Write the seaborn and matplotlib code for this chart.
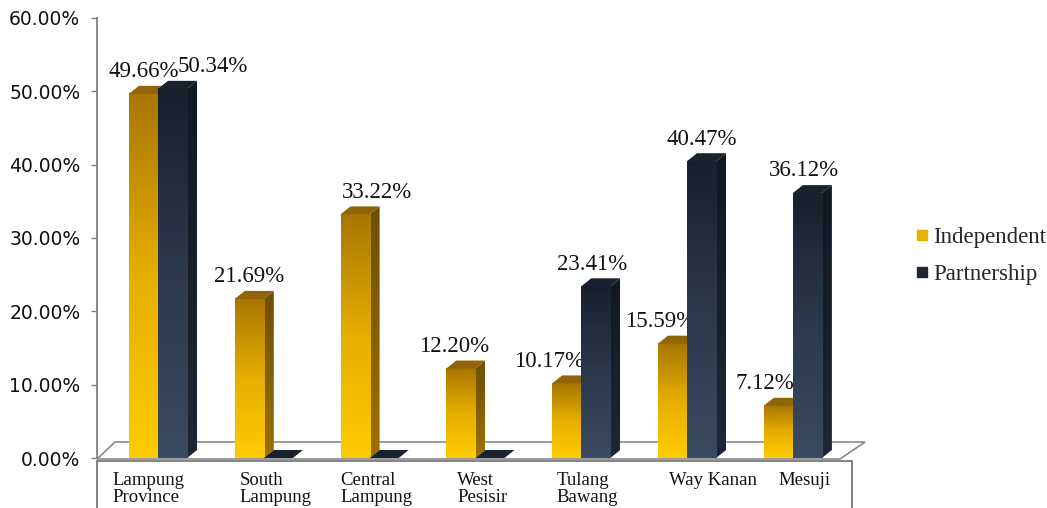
import numpy as np
import pandas as pd
import matplotlib
matplotlib.use("Agg")
import matplotlib.pyplot as plt
import seaborn as sns
from matplotlib.colors import LinearSegmentedColormap, to_rgb
from matplotlib.patches import Polygon
from matplotlib.lines import Line2D
from matplotlib.transforms import ScaledTranslation

# ---------------- data ----------------
regions = ["Lampung\nProvince", "South\nLampung", "Central\nLampung", "West\nPesisir",
           "Tulang\nBawang", "Way Kanan", "Mesuji"]
series = ["Independent", "Partnership"]
independent = [49.66, 21.69, 33.22, 12.20, 10.17, 15.59, 7.12]
partnership = [50.34, 0.00, 0.00, 0.00, 23.41, 40.47, 36.12]
yticks = [0, 10, 20, 30, 40, 50, 60]

# ---------------- layout / style ----------------
W, H = 1047, 508
AX_L, AX_R, AX_T, AX_B = 97, 860, 18, 458
CAT0_PX, CAT_STEP_PX = 158, 105.8
DEPTH_X_PX, DEPTH_Y_PX = 10, 8
# value label horizontal nudges (px), per series then per region
label_dx_px = {
    "Independent": [0, 0, 22, -7, -18, -12, -13],
    "Partnership": [40, 0, 0, 0, -4, 0, -3],
}
xlabel_dx_px = [-10, 12, 7, 7, 6, 26, 12]

base_colors = {"Independent": "#E0A800", "Partnership": "#2B3648"}
front_cmaps = {
    "Independent": LinearSegmentedColormap.from_list("if", ["#FFCC00", "#E6AE00", "#A87600"]),
    "Partnership": LinearSegmentedColormap.from_list("pf", ["#3A4A60", "#2C394C", "#19202D"]),
}
side_cmaps = {
    "Independent": LinearSegmentedColormap.from_list("is", ["#9E7000", "#6E4E00"]),
    "Partnership": LinearSegmentedColormap.from_list("ps", ["#1F2736", "#121722"]),
}
top_colors = {"Independent": "#8F6508", "Partnership": "#1A2230"}
legend_colors = {"Independent": "#E8B000", "Partnership": "#1E2535"}
zbase = {"Independent": 2, "Partnership": 5}

serif = "Liberation Serif"

sns.set_theme(style="white")
plt.rcParams["font.family"] = ["DejaVu Sans"]

fig = plt.figure(figsize=(W / 100, H / 100), dpi=100)
ax = fig.add_axes([AX_L / W, 1 - AX_B / H, (AX_R - AX_L) / W, (AX_B - AX_T) / H])

df = pd.DataFrame({
    "Region": regions * 2,
    "Type": [series[0]] * len(regions) + [series[1]] * len(regions),
    "Value": independent + partnership,
})

sns.barplot(data=df, x="Region", y="Value", hue="Type", order=regions, hue_order=series,
            palette=base_colors, width=0.55, saturation=1, errorbar=None, legend=False, ax=ax)

xlim = (-(CAT0_PX - AX_L) / CAT_STEP_PX, (AX_R - CAT0_PX) / CAT_STEP_PX)
ylim = (yticks[0], yticks[-1])
pyu = (AX_B - AX_T) / (ylim[1] - ylim[0])
dx3 = DEPTH_X_PX / CAT_STEP_PX
dy3 = DEPTH_Y_PX / pyu

grad = np.linspace(0, 1, 256).reshape(-1, 1)

bars = [p for p in ax.patches if hasattr(p, "get_height")]
for p in bars:
    fc = to_rgb(p.get_facecolor()[:3])
    s = min(series, key=lambda k: np.sum((np.array(fc) - np.array(to_rgb(base_colors[k]))) ** 2))
    x0, w, h = p.get_x(), p.get_width(), p.get_height()
    x1 = x0 + w
    z = zbase[s]
    p.set_zorder(z)
    p.set_edgecolor("none")
    # side face
    side = Polygon([(x1, 0), (x1 + dx3, dy3), (x1 + dx3, h + dy3), (x1, h)],
                   closed=True, transform=ax.transData, facecolor="none", edgecolor="none")
    im = ax.imshow(grad, extent=[x1, x1 + dx3, 0, h + dy3], origin="lower", aspect="auto",
                   cmap=side_cmaps[s], zorder=z, interpolation="bilinear")
    im.set_clip_path(side)
    # front face
    if h > 0:
        ax.imshow(grad, extent=[x0, x1, 0, h], origin="lower", aspect="auto",
                  cmap=front_cmaps[s], zorder=z + 0.5, interpolation="bilinear")
    # top face
    ax.add_patch(Polygon([(x0, h), (x1, h), (x1 + dx3, h + dy3), (x0 + dx3, h + dy3)],
                         closed=True, facecolor=top_colors[s], edgecolor="none", zorder=z + 0.6))
    # value label
    idx = int(round((x0 + x1) / 2 - (-0.1375 if s == "Independent" else 0.1375)))
    if h > 0:
        ax.annotate(f"{h:.2f}%", xy=((x0 + x1) / 2, h),
                    xytext=(label_dx_px[s][idx] * 0.72, 12), textcoords="offset points",
                    ha="center", va="baseline", fontsize=16.5, family=serif, color="#111111",
                    zorder=4.5)

# floor
fy_front = (AX_B - 459) / pyu
fy_back = (AX_B - 442) / pyu
px2x = lambda px: (px - CAT0_PX) / CAT_STEP_PX
floor = Polygon([(px2x(AX_L), fy_front), (px2x(AX_L + 18), fy_back), (px2x(865), fy_back),
                 (px2x(840), fy_front)], closed=True, facecolor="white", edgecolor="#8a8a8a",
                lw=1.2, zorder=1, clip_on=False)
ax.add_patch(floor)

# box under the floor
for (xa, ya, xb, yb) in [(97, 461, 852, 461), (97, 461, 97, 508), (852, 461, 852, 508)]:
    fig.add_artist(Line2D([xa / W, xb / W], [1 - ya / H, 1 - yb / H], color="#7a7a7a", lw=1.3))

ax.set_xlim(*xlim)
ax.set_ylim(*ylim)
ax.set_aspect("auto")
ax.set_xlabel("")
ax.set_ylabel("")

for sp in ["top", "right", "bottom"]:
    ax.spines[sp].set_visible(False)
ax.spines["left"].set_color("#808080")
ax.spines["left"].set_linewidth(1.3)

ax.set_yticks(yticks)
ax.set_yticklabels([f"{v:.2f}%" for v in yticks])
ax.tick_params(axis="y", length=4, width=1, color="#808080", pad=8, labelsize=13.5,
               labelcolor="#111111", left=True)

ax.set_xticks(range(len(regions)))
ax.set_xticklabels(regions, fontsize=13.5, family=serif, linespacing=1.0,
                   multialignment="left", color="#111111")
ax.tick_params(axis="x", length=0, pad=10)
for lbl, dxp in zip(ax.get_xticklabels(), xlabel_dx_px):
    lbl.set_transform(lbl.get_transform() + ScaledTranslation(dxp / 100, 0, fig.dpi_scale_trans))

handles = [Line2D([], [], marker="s", ls="", markersize=7, color=legend_colors[s]) for s in series]
fig.legend(handles, series, loc="center left", bbox_to_anchor=(916 / W, 1 - 256 / H),
           frameon=False, prop={"family": serif, "size": 16.5}, handlelength=0.5,
           handletextpad=0.25, labelspacing=0.7, borderpad=0, borderaxespad=0)

fig.savefig("out.png", dpi=100, facecolor="white")
